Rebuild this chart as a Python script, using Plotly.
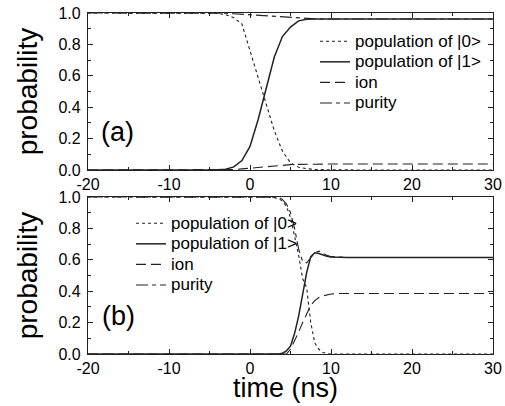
import plotly.graph_objects as go

# ---------------- data ----------------
t_a = [-20, -5, -4, -3, -2, -1, 0, 1, 2, 3, 4, 5, 6, 7, 8, 9, 10, 15, 20, 30]
pop0_a = [1.0, 1.0, 0.998, 0.99, 0.97, 0.93, 0.76, 0.58, 0.42, 0.25, 0.12, 0.045, 0.018, 0.008, 0.004, 0.002, 0.001, 0.0, 0.0, 0.0]
pop1_a = [0.0, 0.0, 0.001, 0.005, 0.02, 0.06, 0.15, 0.32, 0.53, 0.72, 0.85, 0.91, 0.95, 0.96, 0.962, 0.962, 0.962, 0.962, 0.962, 0.962]
ion_a = [0.0, 0.0, 0.0, 0.001, 0.003, 0.007, 0.012, 0.017, 0.022, 0.027, 0.031, 0.034, 0.036, 0.037, 0.038, 0.038, 0.038, 0.038, 0.038, 0.038]
purity_a = [1.0, 1.0, 0.999, 0.998, 0.995, 0.992, 0.988, 0.984, 0.98, 0.976, 0.972, 0.969, 0.966, 0.964, 0.963, 0.962, 0.962, 0.962, 0.962, 0.962]

t_b = [-20, 0, 2, 3, 3.5, 4, 4.5, 5, 5.5, 6, 6.5, 7, 7.5, 8, 8.5, 9, 9.5, 10, 11, 12, 15, 20, 30]
pop0_b = [1.0, 1.0, 1.0, 0.995, 0.99, 0.975, 0.94, 0.87, 0.76, 0.63, 0.48, 0.42, 0.2, 0.07, 0.03, 0.01, 0.003, 0.0, 0.0, 0.0, 0.0, 0.0, 0.0]
pop1_b = [0.0, 0.0, 0.0, 0.0, 0.0, 0.005, 0.02, 0.05, 0.13, 0.24, 0.39, 0.52, 0.62, 0.645, 0.64, 0.63, 0.622, 0.618, 0.616, 0.615, 0.615, 0.615, 0.615]
ion_b = [0.0, 0.0, 0.0, 0.0, 0.0, 0.0, 0.0, 0.03, 0.08, 0.14, 0.2, 0.26, 0.31, 0.34, 0.36, 0.37, 0.377, 0.382, 0.385, 0.385, 0.385, 0.385, 0.385]
purity_b = [1.0, 1.0, 1.0, 1.0, 0.998, 0.985, 0.955, 0.9, 0.8, 0.67, 0.59, 0.58, 0.61, 0.645, 0.655, 0.64, 0.628, 0.62, 0.617, 0.615, 0.615, 0.615, 0.615]

series_names = ["population of |0>", "population of |1>", "ion", "purity"]
panel_labels = ["(a)", "(b)"]
x_ticks = [-20, -10, 0, 10, 20, 30]
x_ticktext = ["-20", "-10", "0", "10", "20", "30"]
y_ticks = [0.0, 0.2, 0.4, 0.6, 0.8, 1.0]
x_title = "time (ns)"
y_title = "probability"

# ---------------- styles ----------------
FONT = "Liberation Sans, Arial, Helvetica, sans-serif"
INK = "#000000"
LINE = "#222222"
dashes = ["3px,3px", "solid", "10px,5px", "12px,4px,4px,4px"]
widths = [1.1, 1.5, 1.1, 1.1]
LEG_TXT = '<span style="font-size:17px">{}</span>'

fig = go.Figure()

panels = [
    (t_a, [pop0_a, pop1_a, ion_a, purity_a], "x", "y", "legend"),
    (t_b, [pop0_b, pop1_b, ion_b, purity_b], "x2", "y2", "legend2"),
]
for t, ys, xa, ya, lg in panels:
    for name, y, d, w in zip(series_names, ys, dashes, widths):
        fig.add_trace(go.Scatter(
            x=t, y=y, mode="lines", name=LEG_TXT.format(name.replace(">", "&gt;")),
            xaxis=xa, yaxis=ya, legend=lg,
            line=dict(color=LINE, width=w, dash=d), showlegend=True,
        ))

axis_common = dict(
    showline=True, linecolor=LINE, linewidth=1.2, mirror="ticks",
    ticks="inside", ticklen=5, tickwidth=1, tickcolor=LINE,
    showgrid=False, zeroline=False, automargin=False,
    tickfont=dict(family=FONT, size=16, color=INK),
)
xaxis_common = dict(axis_common, range=[-20, 30], tickvals=x_ticks, ticktext=x_ticktext,
                    minor=dict(tickvals=[-15, -5, 5, 15, 25], ticklen=3, ticks="inside", tickcolor=LINE))
yaxis_common = dict(axis_common, range=[0, 1], tickvals=y_ticks, tickformat=".1f",
                    ticklabelstandoff=3,
                    minor=dict(tickvals=[0.1, 0.3, 0.5, 0.7, 0.9], ticklen=3, ticks="inside", tickcolor=LINE),
                    title=dict(text=y_title, font=dict(family=FONT, size=28, color=INK), standoff=12))

top_dom = [1 - 157 / 341, 1.0]
bot_dom = [0.0, 157 / 341]

legend_common = dict(xanchor="left", yanchor="top", bgcolor="rgba(0,0,0,0)", borderwidth=0,
                     tracegroupgap=0, font=dict(family=FONT, size=13.5, color=INK))

fig.update_layout(
    width=505, height=406,
    margin=dict(l=88, r=12, t=13, b=52),
    paper_bgcolor="white", plot_bgcolor="white",
    font=dict(family=FONT, color=INK),
    xaxis=dict(xaxis_common, anchor="y"),
    yaxis=dict(yaxis_common, domain=top_dom, anchor="x"),
    xaxis2=dict(xaxis_common, anchor="y2"),
    yaxis2=dict(yaxis_common, domain=bot_dom, anchor="x2"),
    legend=dict(legend_common, x=(315 - 88) / 405, y=(354 - 26) / 341),
    legend2=dict(legend_common, x=(131 - 88) / 405, y=(354 - 208) / 341),
    showlegend=True,
)

fig.add_annotation(x=(285 - 88) / 405, y=(354 - 388) / 341, xref="paper", yref="paper",
                   text=x_title, showarrow=False, yanchor="middle",
                   font=dict(family=FONT, size=27, color=INK))
fig.add_annotation(x=-16.4, y=0.24, xref="x", yref="y", text=panel_labels[0], showarrow=False,
                   font=dict(family=FONT, size=27, color=INK))
fig.add_annotation(x=-16.2, y=0.245, xref="x2", yref="y2", text=panel_labels[1], showarrow=False,
                   font=dict(family=FONT, size=27, color=INK))

fig.write_html("out.html", config={"displayModeBar": False},
               post_script="document.body.style.margin='0px';")
